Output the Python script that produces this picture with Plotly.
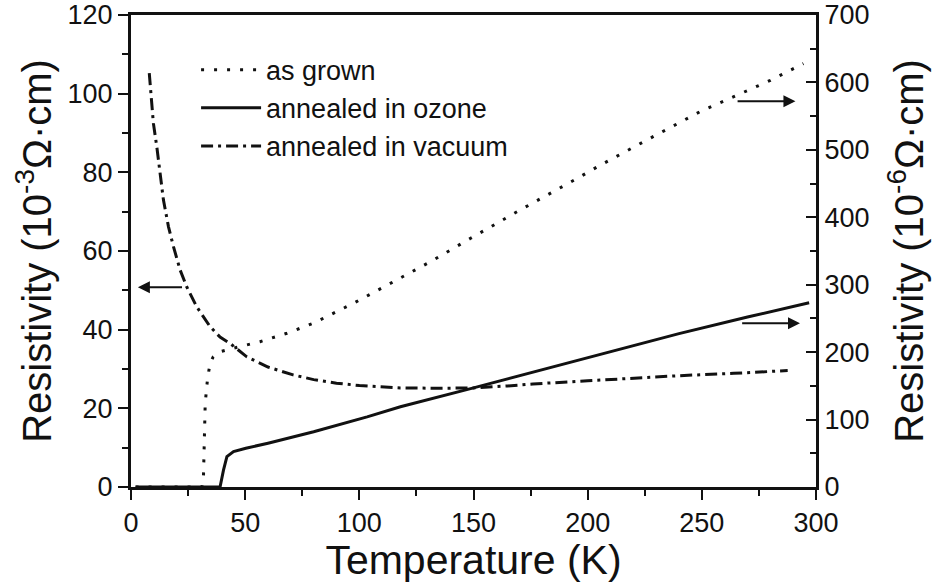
import plotly.graph_objects as go

# ---- data ----
T_grown = [2, 31, 31.7, 32.5, 33.5, 34.6, 36, 39, 45, 50.7, 56.5, 68.3, 79.8, 97.4, 113.6,
           131.1, 148.7, 170, 194, 205.7, 230, 250, 264, 280, 294.5]
R_grown = [0, 0, 10, 124, 160, 183, 193, 200.7, 206, 210.6, 215.5, 228, 242.8, 272.4, 302,
           334, 368.8, 410, 455, 477.6, 522, 558, 579, 603, 628]  # 10^-6 Ohm cm (right axis)

T_ozone = [2, 39, 40.5, 42, 44.9, 50.3, 60, 80, 103.4, 118, 150, 180, 205.7, 240, 270, 297]
R_ozone = [0, 0, 25, 45, 52.4, 57.4, 65, 82, 104, 119, 147, 174, 197.5, 227.5, 252, 273.3]  # right axis

T_vac = [8, 8.6, 9.8, 11.3, 12.7, 14.2, 16.4, 18.6, 21.5, 24.4, 28.8, 34.6, 39, 43.4, 50.7,
         60, 71, 80, 90, 100, 109, 118, 135, 150, 165, 176, 200, 220, 240, 264, 287.6]
R_vac = [105.2, 100.5, 92.5, 86.5, 79.8, 73.0, 66.2, 61.1, 55.2, 50.9, 45.8, 40.8, 38.1, 36.5, 33.1,
         30.5, 28.5, 27.3, 26.4, 25.8, 25.5, 25.2, 25.1, 25.2, 25.7, 26.2, 27.0, 27.7, 28.3, 28.9, 29.6]  # 10^-3 Ohm cm (left)

x_ticks = [0, 50, 100, 150, 200, 250, 300]
y1_ticks = [0, 20, 40, 60, 80, 100, 120]
y2_ticks = [0, 100, 200, 300, 400, 500, 600, 700]

FONT = "Liberation Sans, Arial, Helvetica, sans-serif"
BLACK = "#111111"

fig = go.Figure()
fig.add_trace(go.Scatter(x=T_grown, y=R_grown, yaxis="y2", mode="lines", name="as grown",
                         line=dict(color=BLACK, width=3, dash="3px,10px")))
fig.add_trace(go.Scatter(x=T_ozone, y=R_ozone, yaxis="y2", mode="lines", name="annealed in ozone",
                         line=dict(color=BLACK, width=3)))
fig.add_trace(go.Scatter(x=T_vac, y=R_vac, yaxis="y", mode="lines", name="annealed in vacuum",
                         line=dict(color=BLACK, width=3, dash="12px,5px,3px,5px")))

# arrows indicating which axis each curve belongs to
arrows = [
    dict(x=3, y=50.8, ax=23, ay=50.8, xref="x", yref="y", axref="x", ayref="y"),
    dict(x=291, y=572, ax=265, ay=572, xref="x", yref="y2", axref="x", ayref="y2"),
    dict(x=293, y=243, ax=267, ay=243, xref="x", yref="y2", axref="x", ayref="y2"),
]
for a in arrows:
    fig.add_annotation(text="", showarrow=True, arrowhead=2, arrowsize=1.2, arrowwidth=2,
                       arrowcolor=BLACK, **a)

axis_common = dict(showgrid=False, zeroline=False, showline=True, linecolor=BLACK, linewidth=3,
                   tickcolor=BLACK, tickwidth=2, ticklen=10, automargin=False,
                   tickfont=dict(family=FONT, size=27, color=BLACK))

fig.update_layout(
    width=941, height=583,
    margin=dict(l=131, r=125, t=15, b=96),
    paper_bgcolor="white", plot_bgcolor="white",
    font=dict(family=FONT, color=BLACK),
    xaxis=dict(range=[0, 300], tickvals=x_ticks, ticks="outside", mirror=True,
               minor=dict(dtick=25, tick0=0, ticks="outside", ticklen=6, tickwidth=2, tickcolor=BLACK),
               title=dict(text="Temperature (K)", font=dict(family=FONT, size=41, color=BLACK), standoff=10),
               **axis_common),
    yaxis=dict(range=[0, 120], tickvals=y1_ticks, ticks="outside",
               minor=dict(dtick=10, tick0=0, ticks="outside", ticklen=6, tickwidth=2, tickcolor=BLACK),
               title=dict(text="Resistivity (10<sup>-3</sup>Ω·cm)", font=dict(family=FONT, size=40, color=BLACK),
                          standoff=4),
               **axis_common),
    yaxis2=dict(range=[0, 700], tickvals=y2_ticks, ticks="inside", overlaying="y", side="right",
                minor=dict(dtick=50, tick0=0, ticks="inside", ticklen=6, tickwidth=2, tickcolor=BLACK),
                title=dict(text="Resistivity (10<sup>-6</sup>Ω·cm)", font=dict(family=FONT, size=40, color=BLACK),
                           standoff=27),
                **axis_common),
    legend=dict(x=0.095, y=0.935, xanchor="left", yanchor="top", bgcolor="rgba(0,0,0,0)",
                font=dict(family=FONT, size=27, color=BLACK), itemwidth=60, tracegroupgap=0),
    showlegend=True,
)

fig.write_html("out.html")
